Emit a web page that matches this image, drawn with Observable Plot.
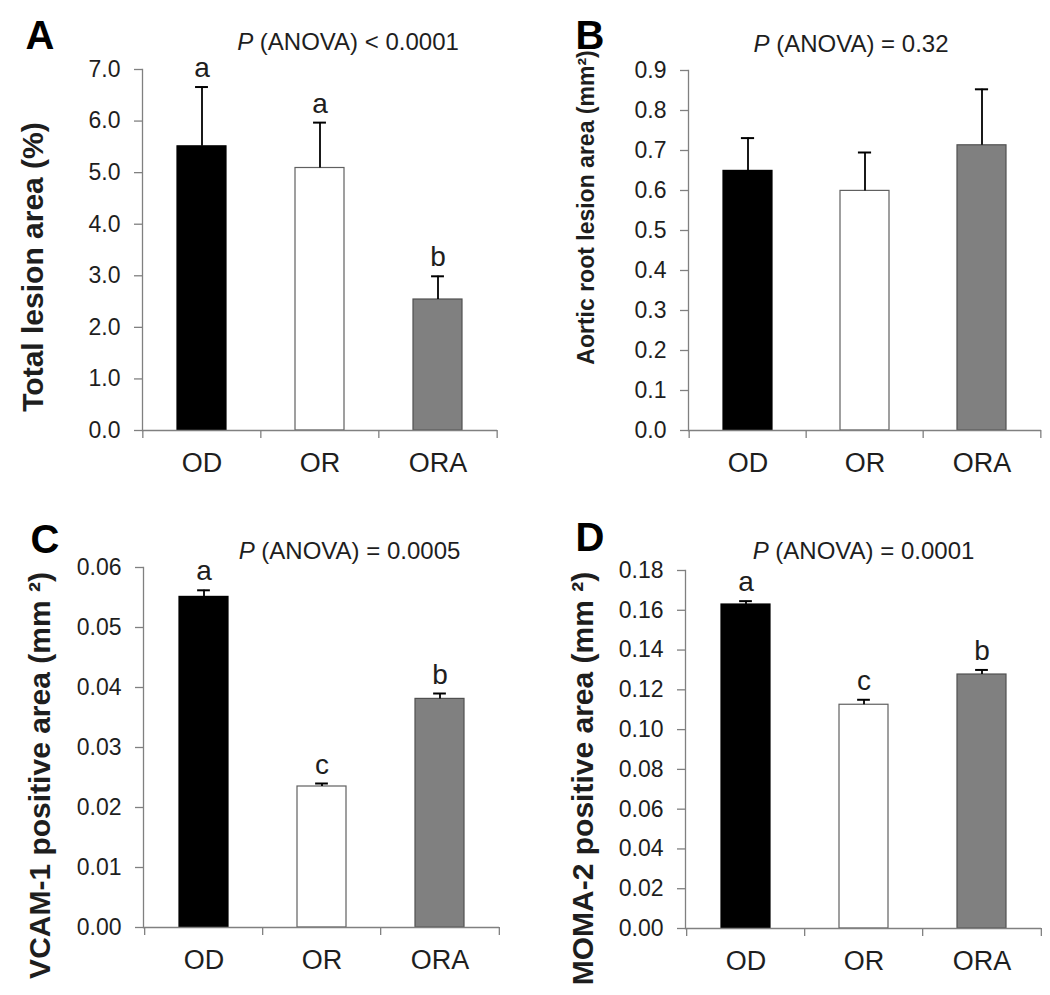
<!DOCTYPE html>
<html><head><meta charset="utf-8">
<script src="https://cdn.jsdelivr.net/npm/d3@7"></script>
<script src="https://cdn.jsdelivr.net/npm/@observablehq/plot@0.6"></script>
<style>
body{margin:0;background:#fff;}
#wrap{position:relative;width:1050px;height:995px;background:#fff;overflow:hidden;}
.panel{position:absolute;}
</style></head><body><div id="wrap"></div>
<script>
// ---- data ----
const categories = ["OD", "OR", "ORA"];
const barFills = ["#000000", "#ffffff", "#808080"];
const barStrokes = ["#000000", "#606060", "#505050"];

const lesionMean = [5.51, 5.09, 2.54];
const lesionSE = [1.15, 0.88, 0.45];
const lesionLetters = ["a", "a", "b"];
const lesionTicks = [0, 1, 2, 3, 4, 5, 6, 7];

const aorticMean = [0.649, 0.599, 0.713];
const aorticSE = [0.082, 0.096, 0.140];
const aorticLetters = ["", "", ""];
const aorticTicks = [0, 0.1, 0.2, 0.3, 0.4, 0.5, 0.6, 0.7, 0.8, 0.9];

const vcamMean = [0.0551, 0.0235, 0.0381];
const vcamSE = [0.0011, 0.0005, 0.0009];
const vcamLetters = ["a", "c", "b"];
const vcamTicks = [0, 0.01, 0.02, 0.03, 0.04, 0.05, 0.06];

const momaMean = [0.1629, 0.1125, 0.1277];
const momaSE = [0.0017, 0.0025, 0.0023];
const momaLetters = ["a", "c", "b"];
const momaTicks = [0, 0.02, 0.04, 0.06, 0.08, 0.10, 0.12, 0.14, 0.16, 0.18];

const panelLetters = ["A", "B", "C", "D"];
const pValueTexts = ["P (ANOVA) < 0.0001", "P (ANOVA) = 0.32", "P (ANOVA) = 0.0005", "P (ANOVA) = 0.0001"];
const yLabels = ["Total lesion area (%)", "Aortic root lesion area (mm\u00B2)", "VCAM-1 positive area (mm \u00B2)", "MOMA-2 positive area (mm \u00B2)"];

// ---- layout ----
const FONT = '"Liberation Sans", Arial, Helvetica, sans-serif';
const AXIS = "#808080";
const TEXT = "#1e1e1e";
const layouts = [
  {left: 0,   top: 0,   width: 525, height: 490, ml: 142, mr: 28, mt: 69, mb: 60,
   fmt: ".1f", lab: {dx: -109, dy: 17, size: 30}, let: {dx: -117, dy: -21}, pt: {dx: 28, dy: -20}},
  {left: 525, top: 0,   width: 525, height: 490, ml: 163, mr: 9,  mt: 70, mb: 60,
   fmt: ".1f", lab: {dx: -102, dy: -43, size: 23}, let: {dx: -113, dy: -22}, pt: {dx: -14, dy: -19}},
  {left: 0,   top: 490, width: 525, height: 505, ml: 143, mr: 26, mt: 77, mb: 68,
   fmt: ".2f", lab: {dx: -103, dy: 28, size: 30}, let: {dx: -113, dy: -15}, pt: {dx: 28, dy: -9}},
  {left: 525, top: 490, width: 525, height: 505, ml: 160, mr: 9,  mt: 80, mb: 67,
   fmt: ".2f", lab: {dx: -102, dy: 29, size: 30}, let: {dx: -110, dy: -20}, pt: {dx: 0, dy: -12}}
];
const series = [
  [lesionMean, lesionSE, lesionLetters, lesionTicks],
  [aorticMean, aorticSE, aorticLetters, aorticTicks],
  [vcamMean, vcamSE, vcamLetters, vcamTicks],
  [momaMean, momaSE, momaLetters, momaTicks]
];

const wrap = document.getElementById("wrap");
const NS = "http://www.w3.org/2000/svg";

layouts.forEach((L, k) => {
  const [means, ses, letters, ticks] = series[k];
  const rows = categories.map((c, i) => ({
    cat: c, mean: means[i], hi: means[i] + ses[i], letter: letters[i],
    fill: barFills[i], stroke: barStrokes[i]
  }));
  const plotW = L.width - L.ml - L.mr;
  const plotH = L.height - L.mt - L.mb;
  const step = plotW / categories.length;
  const pad = 0.585;
  const bw = step * (1 - pad);
  const capInset = (bw - 13) / 2;
  const ymax = ticks[ticks.length - 1];
  const tickLen = 8 * ymax / plotH;

  const svg = Plot.plot({
    width: L.width, height: L.height,
    marginLeft: L.ml, marginRight: L.mr, marginTop: L.mt, marginBottom: L.mb,
    style: {fontFamily: FONT, background: "white", color: TEXT, overflow: "visible"},
    x: {type: "band", domain: categories, paddingInner: pad, paddingOuter: pad / 2, label: null},
    y: {domain: [0, ymax], label: null},
    marks: [
      Plot.barY(rows, {x: "cat", y: "mean", fill: "fill", stroke: "stroke", strokeWidth: 1.2}),
      Plot.ruleX(rows, {x: "cat", y1: "mean", y2: "hi", stroke: "#000", strokeWidth: 1.8}),
      Plot.tickY(rows, {x: "cat", y: "hi", stroke: "#000", strokeWidth: 2, insetLeft: capInset, insetRight: capInset}),
      Plot.text(rows, {x: "cat", y: "hi", text: "letter", lineAnchor: "bottom", dy: -10, fontSize: 28, fill: TEXT}),
      Plot.ruleY([0], {stroke: AXIS, strokeWidth: 1.3}),
      Plot.frame({anchor: "left", stroke: AXIS, strokeWidth: 1.3}),
      Plot.axisY({ticks: ticks, tickFormat: d3.format(L.fmt), tickSize: 8, tickPadding: 14, fontSize: 23,
                  stroke: AXIS, strokeWidth: 1.3, fill: TEXT, label: null}),
      Plot.axisX({tickSize: 0, tickPadding: 22, fontSize: 27, fill: TEXT, label: null}),
      Plot.ruleX(categories, {x: d => d, y1: 0, y2: -tickLen, dx: -step / 2, stroke: AXIS, strokeWidth: 1.3}),
      Plot.ruleX(categories.slice(-1), {x: d => d, y1: 0, y2: -tickLen, dx: step / 2, stroke: AXIS, strokeWidth: 1.3}),
      Plot.text([yLabels[k]], {frameAnchor: "left", text: d => d, rotate: -90, textAnchor: "middle", lineAnchor: "middle",
                               dx: L.lab.dx, dy: L.lab.dy, fontSize: L.lab.size, fontWeight: "bold", fill: TEXT}),
      Plot.text([panelLetters[k]], {frameAnchor: "top-left", text: d => d, textAnchor: "start", lineAnchor: "bottom",
                                    dx: L.let.dx, dy: L.let.dy, fontSize: 40, fontWeight: "bold", fill: "#000"}),
      Plot.text([pValueTexts[k]], {frameAnchor: "top", text: d => d, textAnchor: "middle", lineAnchor: "bottom",
                                   dx: L.pt.dx, dy: L.pt.dy, fontSize: 24, fill: TEXT})
    ]
  });

  svg.querySelectorAll("text").forEach(t => {
    if (t.textContent === pValueTexts[k]) {
      const rest = pValueTexts[k].slice(1);
      t.textContent = "";
      const a = document.createElementNS(NS, "tspan");
      a.setAttribute("font-style", "italic");
      a.textContent = "P";
      const b = document.createElementNS(NS, "tspan");
      b.textContent = rest;
      t.appendChild(a); t.appendChild(b);
    }
  });

  const div = document.createElement("div");
  div.className = "panel";
  div.style.left = L.left + "px";
  div.style.top = L.top + "px";
  div.appendChild(svg);
  wrap.appendChild(div);
});
</script>
</body></html>
